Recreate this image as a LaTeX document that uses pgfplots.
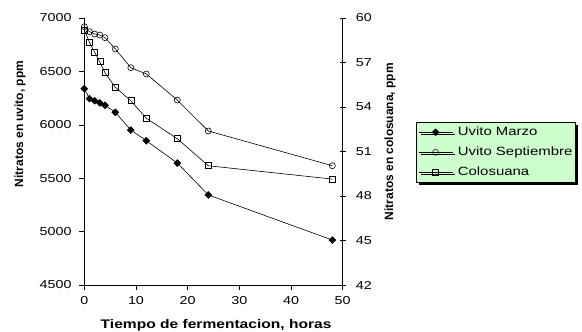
\documentclass[border=0pt]{standalone}
\usepackage{fontspec}
\setmainfont{Liberation Sans}[FakeStretch=1.25]
\newfontfamily\labfont{Liberation Sans}
\usepackage{pgfplots}
\pgfplotsset{compat=1.18}
\usetikzlibrary{shadows}
\definecolor{legfill}{RGB}{204,255,204}

\pgfplotstableread{
t    marzo  sept   colo
0    6338   6919   59.19
1    6245   6872   58.36
2    6225   6850   57.69
3    6205   6841   57.05
4    6183   6816   56.31
6    6117   6710   55.33
9    5951   6535   54.42
12   5851   6476   53.24
18   5642   6232   51.86
24   5343   5942   50.04
48   4921   5617   49.14
}\datatab

\begin{document}
\begin{tikzpicture}[x=1bp,y=1bp]
\pgfplotsset{
  every axis/.append style={
    scale only axis, width=258.4bp, height=267bp,
    xmin=0, xmax=50,
    /pgf/number format/assume math mode=true,
    /pgf/number format/1000 sep={},
    tick style={black, line width=0.6pt},
    axis line style={black, line width=0.6pt},
    tick label style={font=\fontsize{11.5}{13}\selectfont},
  },
}
\begin{axis}[
  ymin=4500, ymax=7000,
  xtick={0,10,...,50}, ytick={4500,5000,...,7000},
  axis x line*=bottom, axis y line*=left,
  tick align=outside, major tick length=5bp,
  yticklabel style={inner sep=0pt, anchor=east, xshift=-7.5bp},
  xticklabel style={inner sep=0pt, anchor=center, yshift=-11bp},
  xlabel={\textbf{Tiempo de fermentacion, horas}},
  xlabel style={at={(axis description cs:0.51,-0.1498)}, anchor=center, font=\fontsize{12.5}{14}\selectfont},
  ylabel={\labfont\bfseries Nitratos en uvito, ppm},
  ylabel style={at={(axis description cs:-0.2488,0.603)}, anchor=center, font=\fontsize{12}{14}\selectfont},
  legend style={at={(rel axis cs:1.2837,0.6105)}, anchor=north west,
    fill=legfill, draw=black, line width=0.6pt,
    general shadow={fill=black, shadow xshift=2.5bp, shadow yshift=-2.5bp},
    font=\fontsize{12}{14}\selectfont,
    inner xsep=2bp, inner ysep=0bp,
    nodes={inner xsep=1bp, inner ysep=5bp, text height=8.5bp, text depth=1.5bp},
    /tikz/every odd column/.append style={column sep=4bp},
    cells={anchor=west}},
  legend image code/.code={
    \draw[mark repeat=2, mark phase=2, #1, line width=0.5pt] plot coordinates {(0bp,0bp) (17bp,0bp) (34bp,0bp)};
  },
]
\addplot[black, line width=0.6pt, mark=square*, mark size=2.4bp, mark options={rotate=45, solid, fill=black}] table[x=t, y=marzo] {\datatab};
\addlegendentry{Uvito Marzo}
\addplot[black, line width=0.6pt, mark=o, mark size=3bp, mark options={solid, fill=white}] table[x=t, y=sept] {\datatab};
\addlegendentry{Uvito Septiembre}
\addlegendimage{black, line width=0.6pt, mark=square, mark size=3bp, mark options={solid, fill=white}}
\addlegendentry{Colosuana}
\end{axis}
\begin{axis}[
  ymin=42, ymax=60,
  ytick={42,45,...,60},
  axis x line=none, axis y line*=right,
  tick align=center, major tick length=6bp,
  yticklabel style={inner sep=0pt, anchor=west, xshift=10bp},
  ylabel={\labfont\bfseries Nitratos en colosuana, ppm},
  ylabel style={at={(axis description cs:1.183,0.537)}, anchor=center, font=\fontsize{12}{14}\selectfont},
]
\addplot[black, line width=0.6pt, mark=square, mark size=3bp, mark options={solid, fill=white}] table[x=t, y=colo] {\datatab};
\end{axis}
\pgfresetboundingbox
\path[use as bounding box] (-84.3bp,-47bp) rectangle (497.7bp,285bp);
\end{tikzpicture}
\end{document}
